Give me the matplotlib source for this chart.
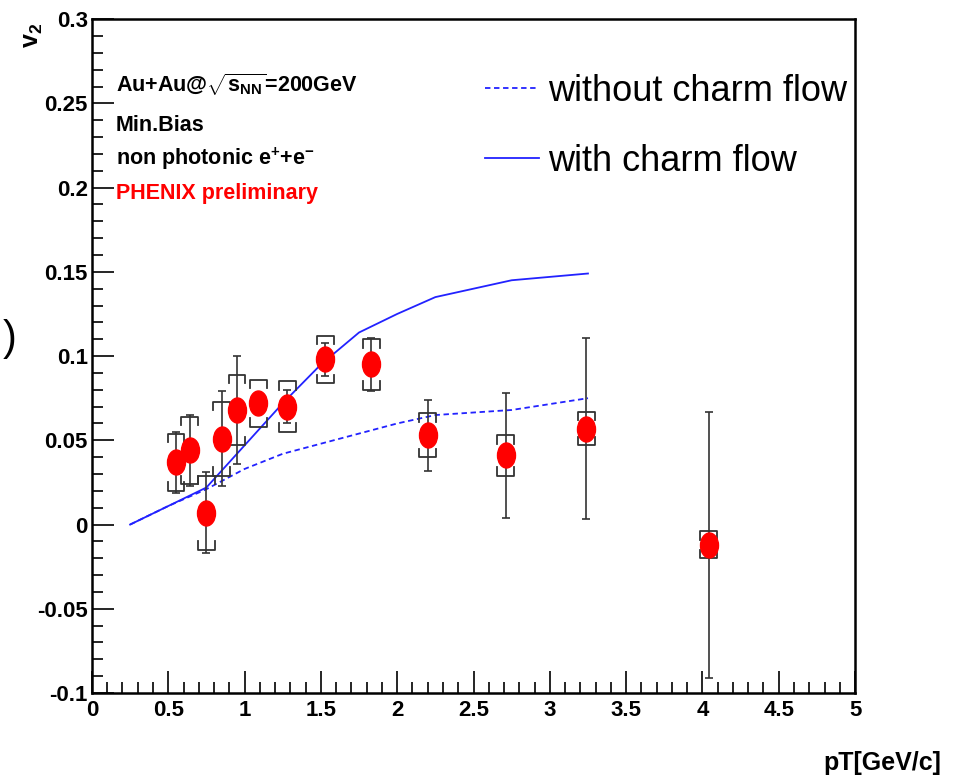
import numpy as np
import matplotlib
matplotlib.use("Agg")
import matplotlib.pyplot as plt
from matplotlib.path import Path
from matplotlib.ticker import MultipleLocator

# --- datos PHENIX ---
pt = [0.55, 0.64, 0.75, 0.85, 0.95, 1.09, 1.28, 1.53, 1.83, 2.20, 2.71, 3.24, 4.04]
v2 = [0.037, 0.044, 0.007, 0.051, 0.068, 0.072, 0.070, 0.098, 0.095, 0.053, 0.041, 0.057, -0.012]
err_stat = [0.018, 0.021, 0.024, 0.028, 0.032, 0.006, 0.010, 0.010, 0.016, 0.021, 0.037, 0.054, 0.079]
err_sys = [0.017, 0.020, 0.022, 0.022, 0.021, 0.014, 0.015, 0.014, 0.015, 0.013, 0.012, 0.010, 0.008]

# --- curvas teoricas ---
pt_model = [0.25, 0.5, 0.75, 1.0, 1.25, 1.5, 1.75, 2.0, 2.25, 2.75, 3.25]
v2_sin_charm = [0.0, 0.011, 0.021, 0.033, 0.042, 0.048, 0.054, 0.060, 0.065, 0.068, 0.075]
v2_con_charm = [0.0, 0.011, 0.022, 0.047, 0.072, 0.095, 0.114, 0.125, 0.135, 0.145, 0.149]

fam = ["Liberation Sans", "DejaVu Sans"]
plt.rcParams["mathtext.fontset"] = "custom"
plt.rcParams["mathtext.rm"] = "Liberation Sans"
plt.rcParams["mathtext.it"] = "Liberation Sans:italic"
plt.rcParams["mathtext.bf"] = "Liberation Sans:bold"

fig = plt.figure(figsize=(9.56, 7.8), dpi=100)
ax = fig.add_axes([0.0962, 0.1115, 0.7982, 0.864])

ax.plot(pt_model, v2_sin_charm, color="#2222ff", lw=1.3, ls=(0, (3, 2)), label="without charm flow")
ax.plot(pt_model, v2_con_charm, color="#2222ff", lw=1.3, label="with charm flow")

# error estadistico
ax.errorbar(pt, v2, yerr=err_stat, fmt="none", ecolor="#333333", elinewidth=1.2,
            capsize=3, capthick=1.2, zorder=3)

# error sistematico: corchetes
hw = 0.055
leg = 0.005
for x, y, s in zip(pt, v2, err_sys):
    ax.plot([x - hw, x - hw, x + hw, x + hw], [y + s - leg, y + s, y + s, y + s - leg],
            color="#333333", lw=1.3, zorder=3)
    ax.plot([x - hw, x - hw, x + hw, x + hw], [y - s + leg, y - s, y - s, y - s + leg],
            color="#333333", lw=1.3, zorder=3)

# marcador eliptico
circ = Path.unit_circle()
elipse = Path(circ.vertices * np.array([0.72, 1.0]), circ.codes)
ax.plot(pt, v2, ls="none", marker=elipse, ms=18, color="red", mec="red", zorder=4)

ax.set_xlim(0, 5)
ax.set_ylim(-0.1, 0.3)
ax.xaxis.set_minor_locator(MultipleLocator(0.1))
ax.yaxis.set_minor_locator(MultipleLocator(0.01))
ax.tick_params(which="both", direction="in", top=False, right=False, width=1.2)
ax.tick_params(which="major", length=16)
ax.tick_params(which="minor", length=8)
for s in ax.spines.values():
    s.set_linewidth(1.8)

ax.set_xticks(np.arange(0, 5.01, 0.5))
ax.set_xticklabels(["0", "0.5", "1", "1.5", "2", "2.5", "3", "3.5", "4", "4.5", "5"])
ax.set_yticks(np.arange(-0.1, 0.301, 0.05))
ax.set_yticklabels(["-0.1", "-0.05", "0", "0.05", "0.1", "0.15", "0.2", "0.25", "0.3"])
for lab in ax.get_xticklabels():
    lab.set_family(fam)
    lab.set_fontweight("bold")
    lab.set_fontsize(16)
for lab in ax.get_yticklabels():
    lab.set_family(fam)
    lab.set_fontweight("bold")
    lab.set_fontsize(16)
ax.tick_params(axis="x", pad=5)
ax.tick_params(axis="y", pad=3)

fig.text(0.035, 0.955, r"$\mathbf{v}_{\mathbf{2}}$", rotation=90, fontsize=18,
         ha="center", va="center")
fig.text(0.985, 0.022, "pT[GeV/c]", fontsize=18, fontweight="bold", ha="right", va="center", family=fam)
fig.text(0.003, 0.565, ")", fontsize=30, ha="left", va="center", family=fam)

x0 = 0.155
ax.text(x0, 0.2616, r"Au+Au@$\sqrt{\mathbf{s}_{\mathbf{NN}}}$=200GeV", fontsize=15.5,
        fontweight="bold", family=fam, va="center")
ax.text(x0, 0.2367, "Min.Bias", fontsize=15.5, fontweight="bold", family=fam, va="center")
ax.text(x0, 0.2172, r"non photonic e$^{\mathbf{+}}$+e$^{\mathbf{-}}$", fontsize=15.5,
        fontweight="bold", family=fam, va="center")
ax.text(x0, 0.1965, "PHENIX preliminary", fontsize=15.5, fontweight="bold", color="red",
        family=fam, va="center")

ax.legend(loc="upper left", bbox_to_anchor=(0.472, 0.967), frameon=False,
          prop={"family": fam, "size": 26}, handlelength=1.5, labelspacing=0.97,
          handletextpad=0.25)

fig.savefig("out.png", dpi=100)
